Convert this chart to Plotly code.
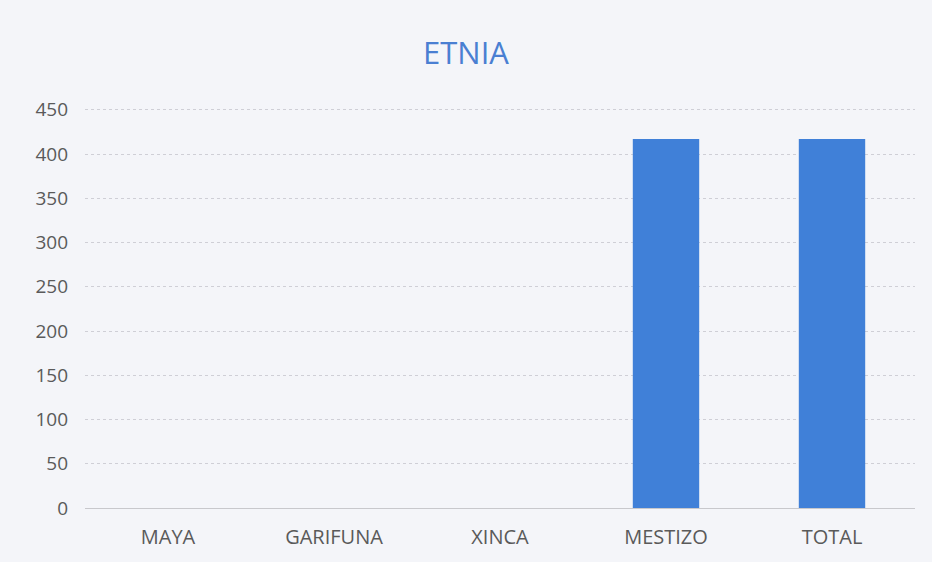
import plotly.graph_objects as go

categories = ["MAYA", "GARIFUNA", "XINCA", "MESTIZO", "TOTAL"]
values = [0, 0, 0, 417, 417]
y_ticks = [0, 50, 100, 150, 200, 250, 300, 350, 400, 450]

fig = go.Figure(go.Bar(
    x=categories, y=values,
    marker=dict(color="#4080d8", line=dict(width=0)),
    width=0.4,
))

fig.update_layout(
    width=932, height=562,
    paper_bgcolor="#f4f5f9", plot_bgcolor="#f4f5f9",
    margin=dict(l=85, r=17, t=108, b=54),
    title=dict(text="ETNIA", x=0.5, xanchor="center", y=0.905, yanchor="middle",
               font=dict(family="Open Sans, Liberation Sans, sans-serif", size=31, color="#4a7fd2")),
    font=dict(family="Open Sans, Liberation Sans, sans-serif", color="#5a5a5a"),
    showlegend=False,
)
fig.update_xaxes(showgrid=False, showline=False, ticks="", tickfont=dict(size=20, color="#5a5a5a"),
                 ticklabelstandoff=15)
fig.update_yaxes(range=[0, 452], tickvals=y_ticks, showgrid=True, gridcolor="#cfcfd6", gridwidth=1,
                 griddash="dot", zeroline=True, zerolinecolor="#c8c8cc", zerolinewidth=1,
                 tickfont=dict(size=19, color="#5a5a5a"), ticks="", ticklabelstandoff=16)

fig.write_html("out.html", config={"displayModeBar": False},
               post_script="document.body.style.margin='0';")
